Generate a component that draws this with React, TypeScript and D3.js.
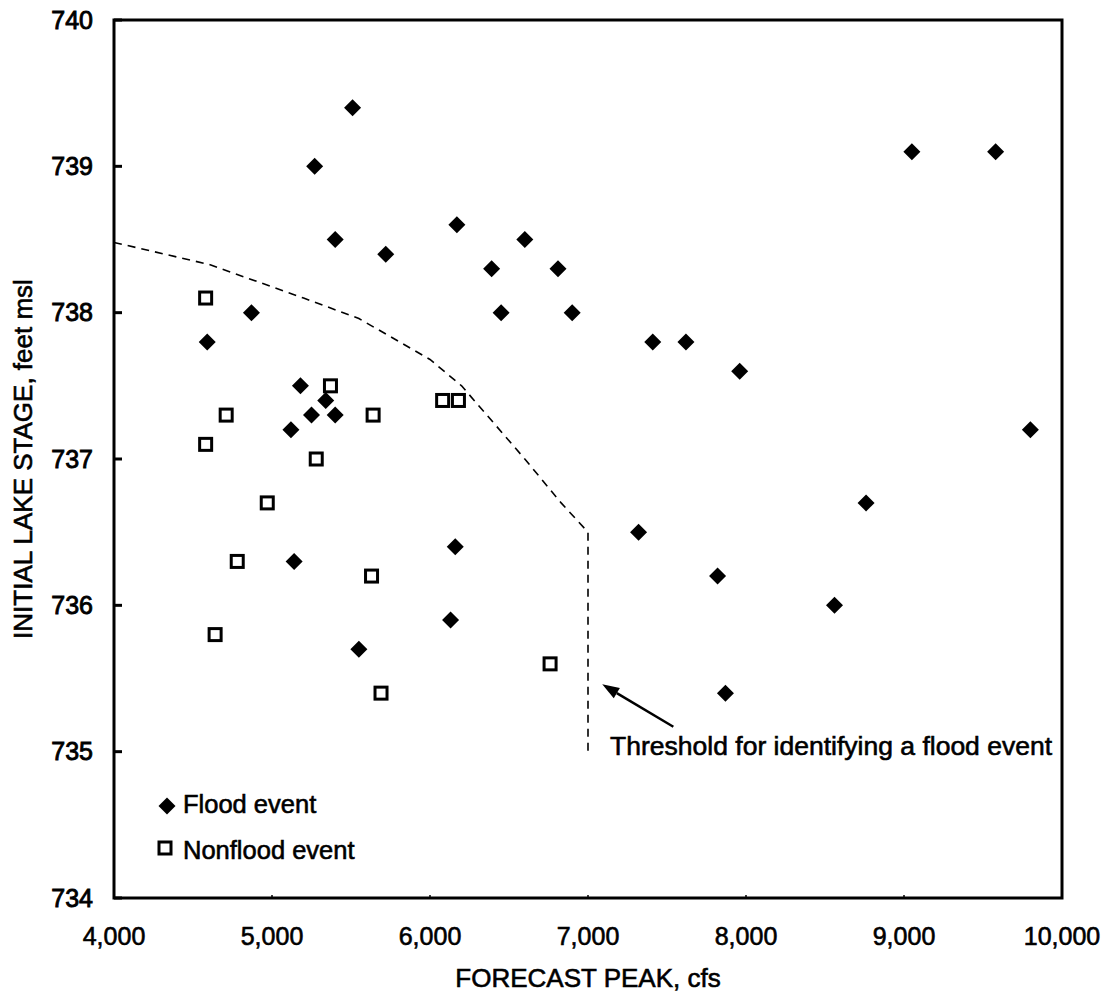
import React from 'react';
import * as d3 from 'd3';

// flood events (forecast peak in cfs, initial lake stage in feet msl)
const floodPeak = [5510, 5270, 5400, 5720, 6170, 6390, 6600, 6810, 6450, 6900, 4870, 4590, 9050, 9580, 9800, 7410,
    7620, 7960, 5180, 5340, 5250, 5400, 5120, 5140, 6160, 6130, 5550, 7320, 8760, 7820, 8560, 7870];
const floodStage = [739.4, 739.0, 738.5, 738.4, 738.6, 738.3, 738.5, 738.3, 738.0, 738.0, 738.0, 737.8, 739.1, 739.1, 737.2, 737.8,
    737.8, 737.6, 737.5, 737.4, 737.3, 737.3, 737.2, 736.3, 736.4, 735.9, 735.7, 736.5, 736.7, 736.2, 736.0, 735.4];

// nonflood events
const nonfloodPeak = [4580, 5370, 4710, 4580, 5640, 6080, 6180, 5280, 4970, 4780, 5630, 4640, 5690, 6760];
const nonfloodStage = [738.1, 737.5, 737.3, 737.1, 737.3, 737.4, 737.4, 737.0, 736.7, 736.3, 736.2, 735.8, 735.4, 735.6];

// threshold curve
const thresholdPeak = [4000, 4600, 5200, 5550, 6000, 6200, 6400, 6600, 6830, 7000, 7000];
const thresholdStage = [738.48, 738.33, 738.1, 737.96, 737.68, 737.5, 737.25, 737.0, 736.7, 736.5, 735.0];

const xTicks = [4000, 5000, 6000, 7000, 8000, 9000, 10000];
const yTicks = [734, 735, 736, 737, 738, 739, 740];

const width = 1109;
const height = 997;
const margin = { top: 20, right: 47, bottom: 99, left: 114 };
const font = '"Liberation Sans", Arial, Helvetica, sans-serif';

export default function App() {
    const x = d3.scaleLinear().domain([4000, 10000]).range([margin.left, width - margin.right]);
    const y = d3.scaleLinear().domain([734, 740]).range([height - margin.bottom, margin.top]);

    const line = d3.line<number>()
        .x((d, i) => x(thresholdPeak[i]))
        .y((d) => y(d));

    const diamond = (cx: number, cy: number, r: number) =>
        `M${cx},${cy - r}L${cx + r},${cy}L${cx},${cy + r}L${cx - r},${cy}Z`;

    const fmt = d3.format(',');

    // arrow from label to threshold
    const ax1 = x(7540), ay1 = y(735.17);
    const ax2 = x(7090), ay2 = y(735.46);
    const ang = Math.atan2(ay2 - ay1, ax2 - ax1);
    const headLen = 17, headW = 6;
    const bx = ax2 - headLen * Math.cos(ang), by = ay2 - headLen * Math.sin(ang);
    const head = `M${ax2},${ay2}L${bx + headW * Math.sin(ang)},${by - headW * Math.cos(ang)}L${bx - headW * Math.sin(ang)},${by + headW * Math.cos(ang)}Z`;

    const plotW = width - margin.left - margin.right;
    const plotH = height - margin.top - margin.bottom;

    // scanned print looks a touch heavier than regular weight
    const ink = { stroke: '#000', strokeWidth: 0.6 };

    return (
        <svg width={width} height={height} style={{ position: 'absolute', left: 0, top: 0, background: '#fff' }}
            fontFamily={font}>
            {/* threshold */}
            <path d={line(thresholdStage) || ''} fill="none" stroke="#000" strokeWidth={1.6} strokeDasharray="8,6" />

            {/* arrow + label */}
            <line x1={ax1} y1={ay1} x2={bx} y2={by} stroke="#000" strokeWidth={2.5} />
            <path d={head} fill="#000" />
            <text x={x(7140)} y={y(734.98)} fontSize={26.5} fill="#000" {...ink}>Threshold for identifying a flood event</text>

            {/* points */}
            {nonfloodPeak.map((p, i) => (
                <rect key={'n' + i} x={x(p) - 6} y={y(nonfloodStage[i]) - 6} width={12} height={12}
                    fill="#fff" stroke="#000" strokeWidth={3} />
            ))}
            {floodPeak.map((p, i) => (
                <path key={'f' + i} d={diamond(x(p), y(floodStage[i]), 8.5)} fill="#000" />
            ))}

            {/* legend */}
            <path d={diamond(margin.left + 53, margin.top + plotH - 92, 8.5)} fill="#000" />
            <text x={margin.left + 69} y={margin.top + plotH - 85} fontSize={25.5} {...ink}>Flood event</text>
            <rect x={margin.left + 45} y={margin.top + plotH - 56} width={12} height={12} fill="#fff" stroke="#000" strokeWidth={3} />
            <text x={margin.left + 69} y={margin.top + plotH - 39} fontSize={25.5} {...ink}>Nonflood event</text>

            {/* frame */}
            <rect x={margin.left} y={margin.top} width={plotW} height={plotH} fill="none" stroke="#000" strokeWidth={3} />

            {/* y ticks */}
            {yTicks.map((t) => (
                <g key={'y' + t}>
                    <line x1={margin.left} x2={margin.left + 8} y1={y(t)} y2={y(t)} stroke="#000" strokeWidth={3} />
                    <text x={margin.left - 21} y={y(t)} dy="0.35em" textAnchor="end" fontSize={25} {...ink} strokeWidth={0.9}>{t}</text>
                </g>
            ))}

            {/* x ticks */}
            {xTicks.map((t) => (
                <g key={'x' + t}>
                    <line x1={x(t)} x2={x(t)} y1={height - margin.bottom} y2={height - margin.bottom - 3} stroke="#000" strokeWidth={1.5} />
                    <text x={x(t)} y={height - margin.bottom + 47} textAnchor="middle" fontSize={25} {...ink}>{fmt(t)}</text>
                </g>
            ))}

            {/* axis titles */}
            <text x={margin.left + plotW / 2} y={987} textAnchor="middle" fontSize={26} {...ink}>FORECAST PEAK, cfs</text>
            <text transform={`translate(32,${margin.top + plotH / 2}) rotate(-90)`} textAnchor="middle" fontSize={26} {...ink}>
                INITIAL LAKE STAGE, feet msl
            </text>
        </svg>
    );
}
